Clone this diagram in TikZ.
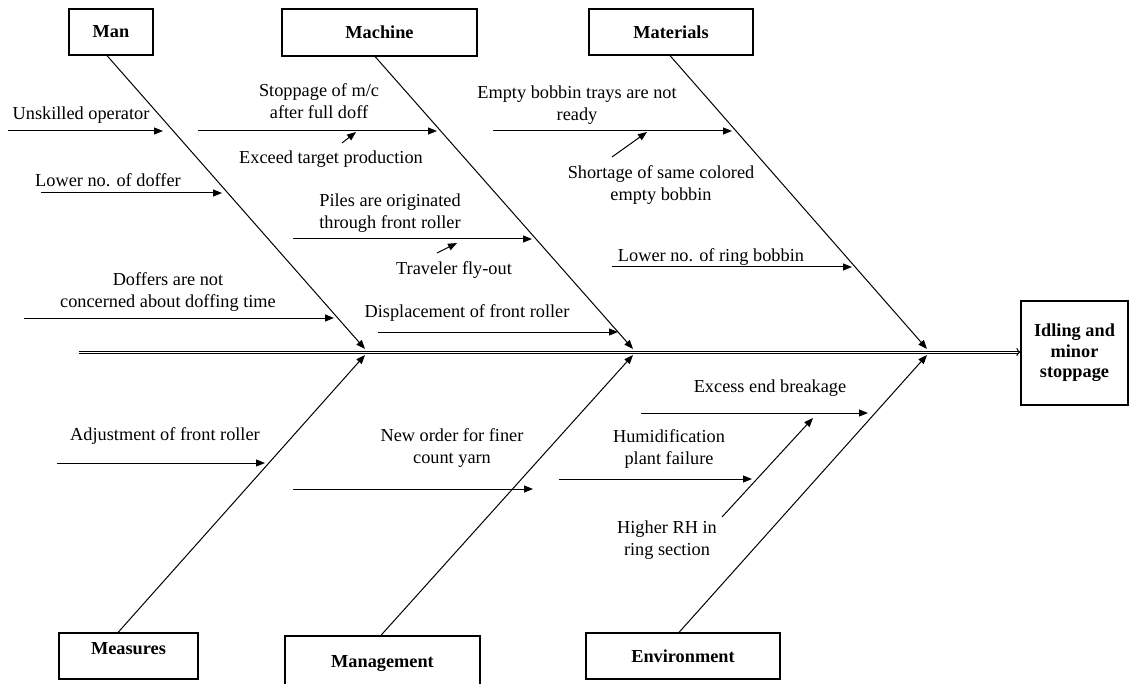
\documentclass[tikz,border=0pt]{standalone}
\usepackage{fontspec}
\setmainfont{Liberation Serif}
\usetikzlibrary{arrows.meta}
\begin{document}
\begin{tikzpicture}[x=0.5pt,y=-0.5pt,
  catbox/.style={draw, line width=0.6pt, inner sep=0pt, align=center,
    font=\fontsize{9.15}{10.3}\selectfont\bfseries},
  cause/.style={align=center, inner sep=0pt,
    font=\fontsize{9.15}{11.3}\selectfont},
  arr/.style={line width=0.5pt, -{Triangle[length=4.5pt,width=3.5pt]}},
  spine/.style={line width=0.5pt, double, double distance=0.5pt,
    -{To[length=2pt,width=4pt]}},
]
\useasboundingbox (0,0) rectangle (1129,684);

% category boxes
\node[catbox, minimum width=42pt,   minimum height=23pt]   (man)  at (111,32)    {Man};
\node[catbox, minimum width=97.5pt, minimum height=23.5pt] (mach) at (379.5,32.5) {Machine};
\node[catbox, minimum width=82pt,   minimum height=23pt]   (mat)  at (671,32)    {Materials};
\node[catbox, minimum width=69.5pt, minimum height=23pt, text depth=7pt] (meas) at (128.5,656) {Measures};
\node[catbox, minimum width=97.5pt, minimum height=28pt]   (mgmt) at (382.5,664) {Management};
\node[catbox, minimum width=97pt,   minimum height=23pt]   (env)  at (683,656)   {Environment};
\node[catbox, minimum width=53.5pt, minimum height=52pt]   (eff)  at (1074.5,353) {Idling and\\minor\\stoppage};

% spine
\coordinate (tail) at (79,352);
\draw[spine] (tail) -- (tail -| eff.west);

% junctions on the spine
\coordinate (j1u) at (365,349); \coordinate (j1d) at (365,355);
\coordinate (j2u) at (633,349); \coordinate (j2d) at (633,355);
\coordinate (j3u) at (927,349); \coordinate (j3d) at (927,355);

% main bones
\draw[arr] ([xshift=-2pt]man.south)    -- (j1u);
\draw[arr] ([xshift=-2.2pt]mach.south) -- (j2u);
\draw[arr] ([xshift=-0.5pt]mat.south)  -- (j3u);
\draw[arr] ([xshift=-5.2pt]meas.north) -- (j1d);
\draw[arr] ([xshift=-0.8pt]mgmt.north) -- (j2d);
\draw[arr] ([xshift=-2pt]env.north)    -- (j3d);

% cause labels
\node[cause] (c1)  at (81,115)  {Unskilled operator};
\node[cause] (c2)  at (108,180) {Lower no. of doffer};
\node[cause] (c3)  at (319,101) {Stoppage of m/c\\after full doff};
\node[cause] (c4)  at (331,159) {Exceed target production};
\node[cause] (c5)  at (577,105) {Empty bobbin trays are not\\ready};
\node[cause] (c6)  at (661,185) {Shortage of same colored\\empty bobbin};
\node[cause] (c7)  at (390,213) {Piles are originated\\through front roller};
\node[cause] (c8)  at (454,270) {Traveler fly-out};
\node[cause] (c9)  at (168,292) {Doffers are not\\concerned about doffing time};
\node[cause] (c10) at (467,313) {Displacement of front roller};
\node[cause] (c11) at (711,257) {Lower no. of ring bobbin};
\node[cause] (c12) at (165,436) {Adjustment of front roller};
\node[cause] (c13) at (452,448) {New order for finer\\count yarn};
\node[cause] (c14) at (770,388) {Excess end breakage};
\node[cause] (c15) at (669,449) {Humidification\\plant failure};
\node[cause] (c16) at (667,540) {Higher RH in\\ring section};

% cause arrows
\coordinate (a1s)  at (8,131);   \coordinate (a1e)  at (163,131);
\coordinate (a2s)  at (41,193);  \coordinate (a2e)  at (222,193);
\coordinate (a3s)  at (198,131); \coordinate (a3e)  at (437,131);
\coordinate (a4s)  at (342,143); \coordinate (a4e)  at (356,132);
\coordinate (a5s)  at (493,131); \coordinate (a5e)  at (732,131);
\coordinate (a6s)  at (612,157); \coordinate (a6e)  at (647,132);
\coordinate (a7s)  at (293,239); \coordinate (a7e)  at (532,239);
\coordinate (a8s)  at (437,253); \coordinate (a8e)  at (457,243);
\coordinate (a9s)  at (24,318);  \coordinate (a9e)  at (334,318);
\coordinate (a10s) at (378,332); \coordinate (a10e) at (618,332);
\coordinate (a11s) at (612,267); \coordinate (a11e) at (852,267);
\coordinate (a12s) at (57,463);  \coordinate (a12e) at (265,463);
\coordinate (a13s) at (293,489); \coordinate (a13e) at (533,489);
\coordinate (a14s) at (641,413); \coordinate (a14e) at (868,413);
\coordinate (a15s) at (559,479); \coordinate (a15e) at (752,479);
\coordinate (a16s) at (722,517); \coordinate (a16e) at (813,418);
\foreach \i in {1,...,16} \draw[arr] (a\i s) -- (a\i e);
\end{tikzpicture}
\end{document}
